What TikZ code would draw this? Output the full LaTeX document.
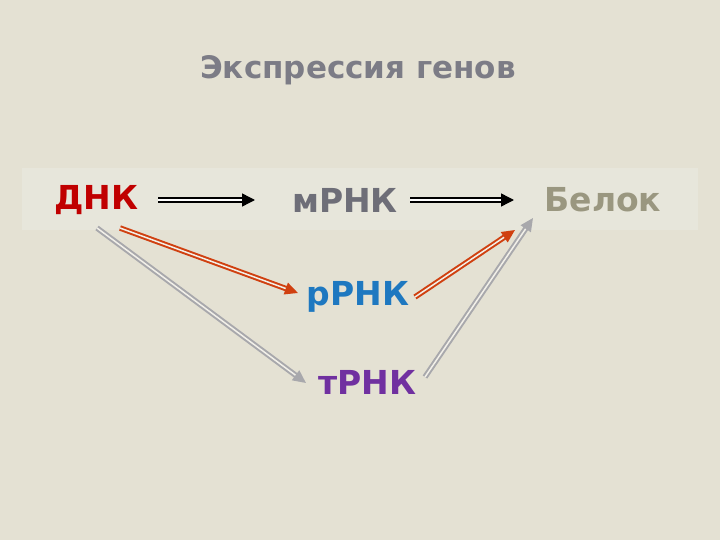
\documentclass[tikz,border=0pt]{standalone}
\usepackage{fontspec}
\setmainfont{DejaVu Sans}
\usetikzlibrary{arrows.meta}
\definecolor{bg}{HTML}{E4E1D3}
\definecolor{band}{HTML}{E7E6DB}
\definecolor{dnk}{HTML}{C00000}
\definecolor{mrnk}{HTML}{6E6E78}
\definecolor{belok}{HTML}{9A9780}
\definecolor{rrnk}{HTML}{1E78C0}
\definecolor{trnk}{HTML}{7030A0}
\definecolor{redar}{HTML}{D04010}
\definecolor{grayar}{HTML}{A8A8AC}
\begin{document}
\begin{tikzpicture}[x=1pt,y=-1pt,
  lbl/.style={font=\bfseries\fontsize{33}{36}\selectfont,inner sep=0pt},
  blk/.style={double=white,draw=black,double distance=2.5pt,line width=1.4pt,-{Triangle[length=13pt,width=13pt]}},
  redarrow/.style={double=bg!50!white,draw=redar,double distance=1.5pt,line width=2pt,-{Triangle[length=13pt,width=12pt]}},
  grayarrow/.style={double=bg!50!white,draw=grayar,double distance=1.5pt,line width=2pt,-{Triangle[length=13pt,width=12pt]}}]
\fill[bg] (0,0) rectangle (720,540);
\useasboundingbox (0,0) rectangle (720,540);
\fill[band] (22,168) rectangle (698,230);
\node[inner sep=0pt,text=mrnk!90!white,font=\bfseries\fontsize{31}{34}\selectfont] (title) at (358,70) {Экспрессия генов};
\node[lbl,text=dnk] (d) at (96,200) {ДНК};
\node[lbl,text=mrnk] (m) at (345,200) {мРНК};
\node[lbl,text=belok] (b) at (603,200) {Белок};
\node[lbl,text=rrnk] (r) at (358,297) {рРНК};
\node[lbl,text=trnk] (t) at (367,382) {тРНК};
\coordinate (d1) at (158,200); \coordinate (m0) at (255,200);
\coordinate (m1) at (410,200); \coordinate (b0) at (514,200);
\draw[blk] (d1) -- (m0);
\draw[blk] (m1) -- (b0);
\coordinate (dr) at (120,228); \coordinate (re) at (298,293);
\coordinate (rs) at (415,297); \coordinate (be) at (515,230);
\draw[redarrow] (dr) -- (re);
\draw[redarrow] (rs) -- (be);
\coordinate (dt) at (97,228); \coordinate (te) at (306,383);
\coordinate (ts) at (425,377); \coordinate (bt) at (533,218);
\draw[grayarrow] (dt) -- (te);
\draw[grayarrow] (ts) -- (bt);
\end{tikzpicture}
\end{document}
